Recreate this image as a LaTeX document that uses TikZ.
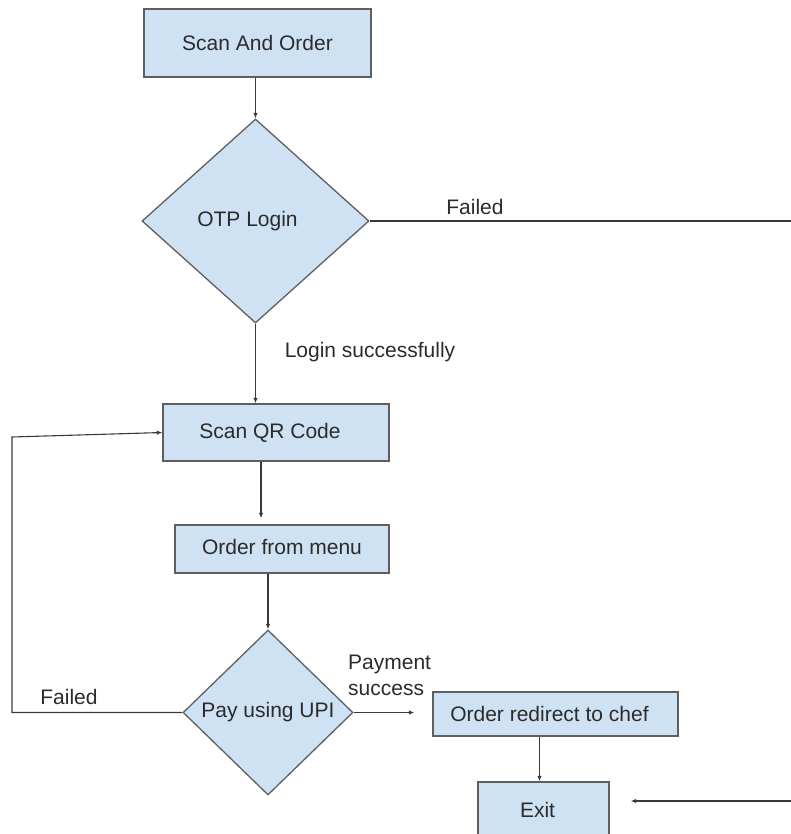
\documentclass[tikz,border=0pt]{standalone}
\usepackage{fontspec}
\setmainfont{Liberation Sans}
\usetikzlibrary{shapes.geometric,arrows.meta}
\definecolor{boxfill}{HTML}{CFE2F3}
\definecolor{boxline}{HTML}{5F5F5F}
\definecolor{txt}{HTML}{2B2B2B}
\definecolor{conn}{HTML}{3A3A3A}
\tikzset{
  every node/.style={font=\fontsize{21}{26}\selectfont, text=txt},
  procbox/.style={draw=boxline, fill=boxfill, line width=1.3pt, rectangle, inner sep=0pt},
  decbox/.style={draw=boxline, fill=boxfill, line width=1.3pt, diamond, inner sep=0pt},
  conline/.style={draw=conn, line width=1.1pt},
  arr/.style={conline, -{Latex[length=5.5pt,width=4.5pt]}},
  lbl/.style={inner sep=0pt}
}
\begin{document}
\begin{tikzpicture}[x=1pt,y=-1pt]
\useasboundingbox (0,0) rectangle (791,834);
% nodes
\node[procbox, minimum width=227pt, minimum height=68pt] (sao) at (257.5,43) {Scan And Order};
\node[decbox, minimum width=227pt, minimum height=204pt] (otp) at (255.5,221) {\hspace*{-16pt}OTP Login};
\node[procbox, minimum width=226pt, minimum height=57pt] (qr) at (276,432.5) {\hspace*{-12pt}Scan QR Code};
\node[procbox, minimum width=214pt, minimum height=48pt] (menu) at (282,549) {\raisebox{4pt}{Order from menu}};
\node[decbox, minimum width=170pt, minimum height=165pt] (pay) at (268,712.5) {Pay using UPI};
\node[procbox, minimum width=245pt, minimum height=44pt] (redir) at (555.5,714) {\hspace*{-12pt}Order redirect to chef};
\node[procbox, minimum width=131pt, minimum height=55pt] (exit) at (543.5,809.5) {\hspace*{-12pt}Exit};
% free ends and corners
\coordinate (failR) at (800,221);
\coordinate (failIn) at (800,801);
\coordinate (loopB) at (12,712.5);
\coordinate (loopT) at (12,437);
% connectors
\draw[arr] (otp.north |- sao.south) -- (otp.north);
\draw[arr] (otp.south) -- (otp.south |- qr.north);
\draw[arr, shorten >=6pt] ([xshift=-15pt]qr.south) -- ([xshift=-15pt]qr.south |- menu.north);
\draw[arr] (pay.north |- menu.south) -- (pay.north);
\draw[arr, shorten >=18pt] (pay.east) -- (pay.east -| redir.west);
\draw[arr] ([xshift=-4pt]exit.north |- redir.south) -- ([xshift=-4pt]exit.north);
\draw[conline] (otp.east) -- (failR);
\draw[arr, shorten >=21pt] (failIn) -- (failIn -| exit.east);
\draw[arr] (pay.west) -- (loopB) -- (loopT) -- (qr.west);
% labels
\node[lbl] (lfail1) at (475,207) {Failed};
\node[lbl] (llogin) at (370,352) {Login successfully};
\node[lbl, anchor=west, align=left] (lpay) at (348,675) {Payment\\success};
\node[lbl] (lfail2) at (69,697) {Failed};
\end{tikzpicture}
\end{document}
